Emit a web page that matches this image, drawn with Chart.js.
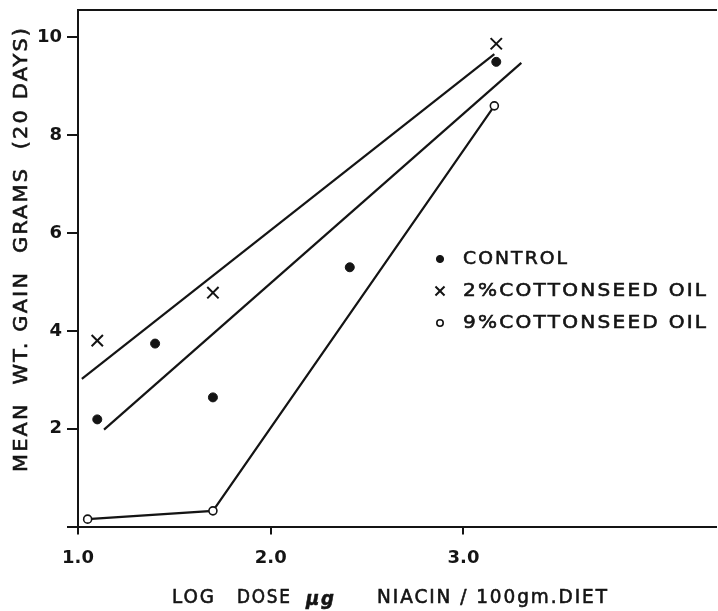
<!DOCTYPE html>
<html>
<head>
<meta charset="utf-8">
<script src="https://cdn.jsdelivr.net/npm/chart.js@4.4.1/dist/chart.umd.min.js"></script>
<style>
  html, body { margin: 0; background: #fff; overflow: hidden; }
  canvas { display: block; }
</style>
</head>
<body>
<!-- a little wider than the window: chart.js keeps ~8px spare on the right,
     the original plot runs to the edge of the page -->
<canvas id="chart" width="726" height="611"></canvas>
<script>
// values
const doseControl = [1.10, 1.40, 1.70, 2.41, 3.17];
const gainControl = [2.19, 3.74, 2.64, 5.30, 9.50];
const dose2pct    = [1.10, 1.70, 3.17];
const gain2pct    = [3.80, 4.78, 9.87];
const dose9pct    = [1.05, 1.70, 3.16];
const gain9pct    = [0.15, 0.32, 8.60];
// fitted lines (end points)
const fit2pctX    = [1.02, 3.16];
const fit2pctY    = [3.02, 9.66];
const fitCtrlX    = [1.135, 3.30];
const fitCtrlY    = [1.98, 9.48];
const xTicks      = [1, 2, 3];
const yTicks      = [0, 2, 4, 6, 8, 10];
const legendLabels = ['CONTROL', '2%COTTONSEED OIL', '9%COTTONSEED OIL'];
const xTitleParts = ['LOG', 'DOSE', '\u03bcg', 'NIACIN / 100gm.DIET'];
const yTitle = 'MEAN  WT. GAIN  GRAMS  (20 DAYS)';

const FONT = '"DejaVu Sans", sans-serif';
const INK = '#141414';
const toPts = (xs, ys) => xs.map((x, i) => ({ x, y: ys[i] }));

const markControl = { pointStyle: 'circle',   radius: 4.5, fill: INK,    border: 1 };
const mark2pct    = { pointStyle: 'crossRot', radius: 8,   fill: INK,    border: 2 };
const mark9pct    = { pointStyle: 'circle',   radius: 4,   fill: '#fff', border: 1.6 };

// lettered text stretched to span [x0, x1]
function letter(ctx, txt, x0, x1, y) {
  ctx.save();
  ctx.letterSpacing = '2px';
  const w = ctx.measureText(txt).width - 2;
  ctx.translate(x0, y);
  ctx.scale((x1 - x0) / w, 1);
  ctx.textAlign = 'left';
  ctx.fillText(txt, 0, 0);
  ctx.lineWidth = 0.6;
  ctx.strokeText(txt, 0, 0);
  ctx.restore();
}

const labelPlugin = {
  id: 'figLabels',
  afterDraw(chart) {
    const ctx = chart.ctx;
    const marks = [markControl, mark2pct, mark9pct];
    ctx.save();
    ctx.textBaseline = 'middle';
    ctx.fillStyle = INK;
    ctx.strokeStyle = INK;

    // legend
    ctx.font = '18px ' + FONT;
    const legendEnds = [567, 706, 706];
    legendLabels.forEach((txt, i) => {
      const y = 259 + i * 32;
      const m = marks[i];
      ctx.fillStyle = m.fill;
      ctx.lineWidth = m.border;
      Chart.helpers.drawPoint(ctx, { pointStyle: m.pointStyle, radius: m.radius * 0.8, borderWidth: m.border }, 440, y);
      ctx.fillStyle = INK;
      letter(ctx, txt, 463, legendEnds[i], y);
    });

    // x title
    ctx.font = '19px ' + FONT;
    letter(ctx, xTitleParts[0], 172, 214, 598);
    letter(ctx, xTitleParts[1], 237, 290, 598);
    ctx.font = 'italic bold 20px ' + FONT;
    letter(ctx, xTitleParts[2], 306, 334, 600);
    ctx.font = '19px ' + FONT;
    letter(ctx, xTitleParts[3], 377, 607, 598);

    // y title
    ctx.translate(22, 0);
    ctx.rotate(-Math.PI / 2);
    letter(ctx, yTitle, -472, -28, 0);
    ctx.restore();
  }
};

new Chart(document.getElementById('chart'), {
  type: 'scatter',
  data: {
    datasets: [
      { label: 'fit 2%', data: toPts(fit2pctX, fit2pctY), showLine: true, pointRadius: 0,
        borderColor: INK, borderWidth: 2.2 },
      { label: 'fit control', data: toPts(fitCtrlX, fitCtrlY), showLine: true, pointRadius: 0,
        borderColor: INK, borderWidth: 2.2 },
      { label: legendLabels[0], data: toPts(doseControl, gainControl),
        pointStyle: markControl.pointStyle, pointRadius: markControl.radius,
        backgroundColor: INK, borderColor: INK, borderWidth: markControl.border },
      { label: legendLabels[1], data: toPts(dose2pct, gain2pct),
        pointStyle: mark2pct.pointStyle, pointRadius: mark2pct.radius,
        backgroundColor: INK, borderColor: INK, borderWidth: mark2pct.border },
      { label: legendLabels[2], data: toPts(dose9pct, gain9pct), showLine: true,
        pointStyle: mark9pct.pointStyle, pointRadius: mark9pct.radius,
        backgroundColor: '#fff', borderColor: INK, borderWidth: 2.2,
        pointBorderWidth: mark9pct.border },
    ]
  },
  options: {
    responsive: false,
    animation: false,
    layout: { padding: { top: 8, right: 0, left: 0, bottom: 0 } },
    plugins: { legend: { display: false }, tooltip: { enabled: false } },
    scales: {
      x: {
        type: 'linear', min: 1, max: 4.31,
        afterBuildTicks: s => { s.ticks = xTicks.map(v => ({ value: v })); },
        afterFit: s => { s.height = 84.5; s.paddingLeft = 0; s.paddingRight = 0; },
        grid: { drawOnChartArea: false, tickLength: 8, color: INK, lineWidth: 2 },
        border: { color: INK, width: 2 },
        ticks: { color: INK, font: { family: FONT, size: 18, weight: 'bold' }, padding: 13,
                 callback: v => v.toFixed(1) }
      },
      x2: {
        type: 'linear', position: 'top', min: 1, max: 4.31,
        afterFit: s => { s.height = 0; s.paddingLeft = 0; s.paddingRight = 0; },
        grid: { display: false },
        ticks: { display: false },
        border: { color: INK, width: 2 }
      },
      y: {
        type: 'linear', min: 0, max: 10.56,
        afterBuildTicks: s => { s.ticks = yTicks.map(v => ({ value: v })); },
        afterFit: s => { s.width = 78; s.paddingTop = 0; s.paddingBottom = 0; },
        grid: { drawOnChartArea: false, tickLength: 11, color: INK, lineWidth: 2 },
        border: { color: INK, width: 2 },
        ticks: { color: INK, font: { family: FONT, size: 18, weight: 'bold' }, padding: 5,
                 callback: v => v === 0 ? '' : String(v) }
      }
    }
  },
  plugins: [labelPlugin]
});
</script>
</body>
</html>
